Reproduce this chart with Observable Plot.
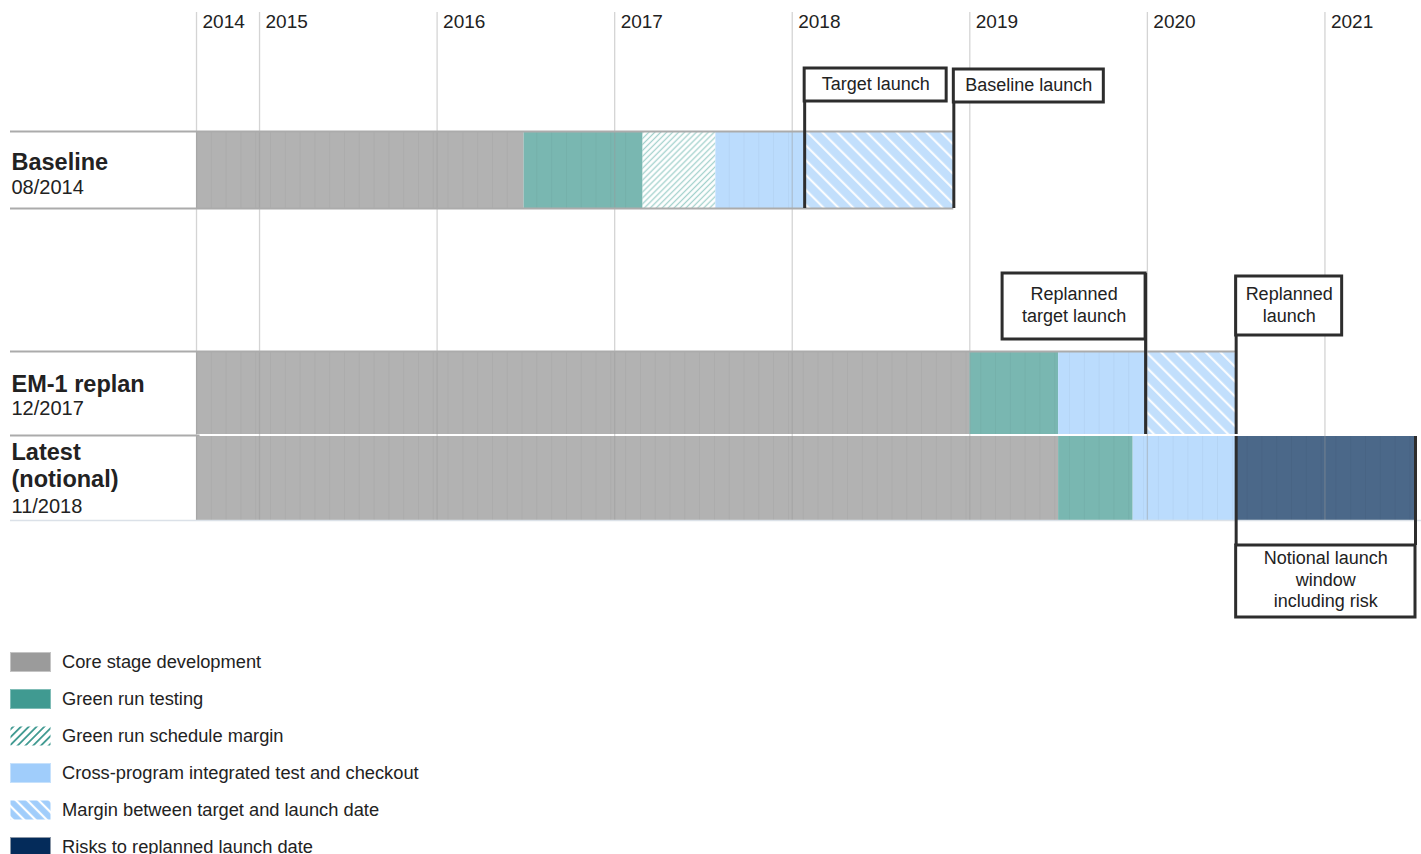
<!DOCTYPE html>
<html>
<head>
<meta charset="utf-8">
<script src="https://cdn.jsdelivr.net/npm/d3@7"></script>
<script src="https://cdn.jsdelivr.net/npm/@observablehq/plot@0.6"></script>
<style>
  html, body { margin: 0; padding: 0; background: #fff; overflow: hidden; }
  body { font-family: "Liberation Sans", Arial, sans-serif; color: #222; width: 1421px; height: 854px; }
  #chart svg { display: block; }
  #legend { padding-left: 10px; }
  .item { display: flex; align-items: center; height: 37px; font-size: 18.3px; color: #222; }
  .item svg { margin-right: 11px; display: block; }
</style>
</head>
<body>
<svg width="0" height="0" style="position:absolute">
  <defs>
    <pattern id="hatchGreenBar" patternUnits="userSpaceOnUse" width="4.2" height="4.2" patternTransform="rotate(45)">
      <rect width="4.2" height="4.2" fill="#ffffff"></rect>
      <line x1="2.1" y1="0" x2="2.1" y2="4.2" stroke="#a3d2cd" stroke-width="1.3"></line>
    </pattern>
    <pattern id="hatchBlueBar" patternUnits="userSpaceOnUse" width="10.5" height="10.5" patternTransform="rotate(-45)">
      <rect width="10.5" height="10.5" fill="#c2dffc"></rect>
      <line x1="5" y1="0" x2="5" y2="10.5" stroke="#ffffff" stroke-width="2"></line>
    </pattern>
    <pattern id="hatchGreenLegend" patternUnits="userSpaceOnUse" width="5.5" height="5.5" patternTransform="rotate(45)">
      <rect width="5.5" height="5.5" fill="#ffffff"></rect>
      <line x1="2.75" y1="0" x2="2.75" y2="5.5" stroke="#409a91" stroke-width="1.8"></line>
    </pattern>
    <pattern id="hatchBlueLegend" patternUnits="userSpaceOnUse" width="8" height="8" patternTransform="rotate(-45)">
      <rect width="8" height="8" fill="#a0cdfb"></rect>
      <line x1="4" y1="0" x2="4" y2="8" stroke="#ffffff" stroke-width="2.2"></line>
    </pattern>
  </defs>
</svg>
<div id="chart"></div>
<div id="legend"></div>
<script>
// ---------------- data ----------------
const yearTickValues = [2014.645, 2015, 2016, 2017, 2018, 2019, 2020, 2021];
const yearTickLabels = ["2014", "2015", "2016", "2017", "2018", "2019", "2020", "2021"];
const timelineEnd = 2021.51;

const rowNames = ["Baseline", "EM-1 replan", "Latest"];
const rowTitleLines = [["Baseline"], ["EM-1 replan"], ["Latest", "(notional)"]];
const rowDates = ["08/2014", "12/2017", "11/2018"];

const categoryKeys = ["core", "green", "greenMargin", "cross", "margin", "risk"];
const categoryLabels = [
  "Core stage development",
  "Green run testing",
  "Green run schedule margin",
  "Cross-program integrated test and checkout",
  "Margin between target and launch date",
  "Risks to replanned launch date"
];

const segmentRow   = ["Baseline", "Baseline", "Baseline", "Baseline", "Baseline",
                      "EM-1 replan", "EM-1 replan", "EM-1 replan", "EM-1 replan",
                      "Latest", "Latest", "Latest", "Latest"];
const segmentType  = ["core", "green", "greenMargin", "cross", "margin",
                      "core", "green", "cross", "margin",
                      "core", "green", "cross", "risk"];
const segmentStart = [2014.645, 2016.49, 2017.16, 2017.57, 2018.07,
                      2014.645, 2019.0, 2019.5, 2019.99,
                      2014.645, 2019.5, 2019.92, 2020.5];
const segmentEnd   = [2016.49, 2017.16, 2017.57, 2018.07, 2018.91,
                      2019.0, 2019.5, 2019.99, 2020.5,
                      2019.5, 2019.92, 2020.5, 2021.51];

const milestoneLabels = ["Target launch", "Baseline launch", "Replanned\ntarget launch", "Replanned\nlaunch"];
const milestoneDates  = [2018.07, 2018.91, 2019.99, 2020.5];
const milestoneRows   = ["Baseline", "Baseline", "EM-1 replan", "EM-1 replan"];

const windowLabel = "Notional launch\nwindow\nincluding risk";
const windowStart = 2020.5;
const windowEnd = 2021.51;

// ---------------- styles & layout ----------------
const W = 1421, H = 643;
const ML = 196, MR = 6;
const labelLeft = 11;
const ink = "#2d2d2d";
const barFill = {
  core: "#b2b2b2", green: "#79b7b1", greenMargin: "url(#hatchGreenBar)",
  cross: "#bbdcfd", margin: "url(#hatchBlueBar)", risk: "#4b6889"
};
const legendFill = {
  core: "#9b9b9b", green: "#409a91", greenMargin: "url(#hatchGreenLegend)",
  cross: "#a0cdfb", margin: "url(#hatchBlueLegend)", risk: "#042b5a"
};
const legendStroke = { core: "#c4c4c4", green: "#7fbcb6", greenMargin: "none", cross: "#c6e1fc", margin: "none", risk: "#8a96a6" };
const rowBand = { "Baseline": [131, 208], "EM-1 replan": [351, 434], "Latest": [436, 520] };
const rowLabelY = { "Baseline": [162, 187], "EM-1 replan": [384, 408], "Latest": [452, 479, 506] };
const gridTop = 12, gridBottom = 520, yearLabelY = 21;
const calloutLayout = [
  { side: "right", w: 142, top: 68, bottom: 101 },
  { side: "right", w: 150, top: 69, bottom: 102 },
  { side: "left",  w: 143, top: 273, bottom: 339 },
  { side: "right", w: 106, top: 276, bottom: 335 }
];
const windowBox = { top: 545, bottom: 617 };

// ---------------- derived tables ----------------
const xStart = yearTickValues[0];
const segments = segmentRow.map((row, i) => ({ row, type: segmentType[i], start: segmentStart[i], end: segmentEnd[i] }));
const rowEnd = r => d3.max(segments.filter(s => s.row === r), s => s.end);

// faint monthly divisions inside the solid bars
const monthLines = segments.filter(s => s.type !== "greenMargin" && s.type !== "margin").flatMap(s => {
  const out = [];
  for (let k = 1; k < 100; k++) {
    const x = xStart + k / 12;
    if (x >= s.end - 0.02) break;
    if (x > s.start + 0.02) out.push({ x, row: s.row });
  }
  return out;
});

const borders = [
  { y: rowBand["Baseline"][0], x1: xStart, x2: rowEnd("Baseline") },
  { y: rowBand["Baseline"][1], x1: xStart, x2: rowEnd("Baseline") },
  { y: rowBand["EM-1 replan"][0], x1: xStart, x2: rowEnd("EM-1 replan") },
  { y: (rowBand["EM-1 replan"][1] + rowBand["Latest"][0]) / 2, x1: xStart, x2: xStart + 0.02 }
];

const rowLabelRows = rowNames.flatMap((r, i) => {
  const lines = rowTitleLines[i].map(t => ({ t, bold: true }));
  lines.push({ t: rowDates[i], bold: false });
  return lines.map((l, j) => ({ ...l, y: rowLabelY[r][j] }));
});

const calloutMarks = milestoneLabels.flatMap((label, i) => {
  const L = calloutLayout[i];
  const d = [{ x: milestoneDates[i] }];
  const right = L.side === "right";
  return [
    Plot.ruleX(d, { x: "x", y1: L.top, y2: rowBand[milestoneRows[i]][1], stroke: ink, strokeWidth: 3 }),
    Plot.rect(d, { x1: "x", x2: "x", y1: L.top, y2: L.bottom,
      insetLeft: right ? 0 : -L.w, insetRight: right ? -L.w : 0,
      fill: "white", stroke: ink, strokeWidth: 3 }),
    Plot.text(d, { x: "x", y: (L.top + L.bottom) / 2, dx: right ? L.w / 2 : -L.w / 2, dy: -2.5,
      text: () => label, fontSize: 18, lineHeight: 1.22, fill: "#222" })
  ];
});

const plot = Plot.plot({
  width: W, height: H,
  marginLeft: ML, marginRight: MR, marginTop: 0, marginBottom: 0,
  x: { domain: [xStart, timelineEnd], axis: null },
  y: { domain: [0, H], range: [0, H], axis: null },
  style: { fontFamily: "'Liberation Sans', Arial, sans-serif", background: "white", color: "#222", overflow: "visible" },
  marks: [
    ...categoryKeys.map(c => Plot.rect(segments.filter(s => s.type === c), {
      x1: "start", x2: "end",
      y1: s => rowBand[s.row][0], y2: s => rowBand[s.row][1],
      fill: barFill[c]
    })),
    Plot.ruleX(monthLines, { x: "x", y1: d => rowBand[d.row][0], y2: d => rowBand[d.row][1], stroke: "#000", strokeOpacity: 0.035 }),
    Plot.ruleX(yearTickValues, { x: d => d, y1: gridTop, y2: gridBottom, stroke: "#999", strokeOpacity: 0.42, strokeWidth: 1.3 }),
    Plot.ruleY(borders, { y: "y", x1: "x1", x2: "x2", insetLeft: -(ML - 10), stroke: "#ababab", strokeWidth: 2 }),
    Plot.ruleY([{ y: rowBand["Latest"][1], x1: xStart, x2: timelineEnd }], { y: "y", x1: "x1", x2: "x2", insetLeft: -(ML - 10), insetRight: -MR, stroke: "#dbe1e8", strokeWidth: 1.5 }),
    ...calloutMarks,
    Plot.ruleX([windowStart, windowEnd], { x: d => d, y1: rowBand["Latest"][0], y2: windowBox.top, stroke: ink, strokeWidth: 3 }),
    Plot.rect([{ a: windowStart, b: windowEnd }], { x1: "a", x2: "b", y1: windowBox.top, y2: windowBox.bottom, fill: "white", stroke: ink, strokeWidth: 3 }),
    Plot.text([{ a: windowStart, b: windowEnd }], { x: d => (d.a + d.b) / 2, y: (windowBox.top + windowBox.bottom) / 2 - 3,
      text: () => windowLabel, fontSize: 18, lineHeight: 1.22, fill: "#222" }),
    Plot.text(yearTickValues, { x: d => d, y: yearLabelY, text: (d, i) => yearTickLabels[i], dx: 6, textAnchor: "start", fontSize: 19, fill: "#222" }),
    Plot.text(rowLabelRows.filter(d => d.bold), { x: () => xStart, y: "y", text: "t", dx: -(ML - labelLeft), textAnchor: "start", fontSize: 23.5, fontWeight: "bold", fill: "#222" }),
    Plot.text(rowLabelRows.filter(d => !d.bold), { x: () => xStart, y: "y", text: "t", dx: -(ML - labelLeft), textAnchor: "start", fontSize: 20, fill: "#222" })
  ]
});
document.getElementById("chart").appendChild(plot);

// ---------------- legend ----------------
const legend = d3.select("#legend");
categoryKeys.forEach((c, i) => {
  const item = legend.append("div").attr("class", "item");
  const sw = item.append("svg").attr("width", 41).attr("height", 20);
  sw.append("rect").attr("x", 0.5).attr("y", 0.5).attr("width", 40).attr("height", 19)
    .attr("fill", legendFill[c]).attr("stroke", legendStroke[c]).attr("stroke-width", 1);
  item.append("span").text(categoryLabels[i]);
});
</script>
</body>
</html>
